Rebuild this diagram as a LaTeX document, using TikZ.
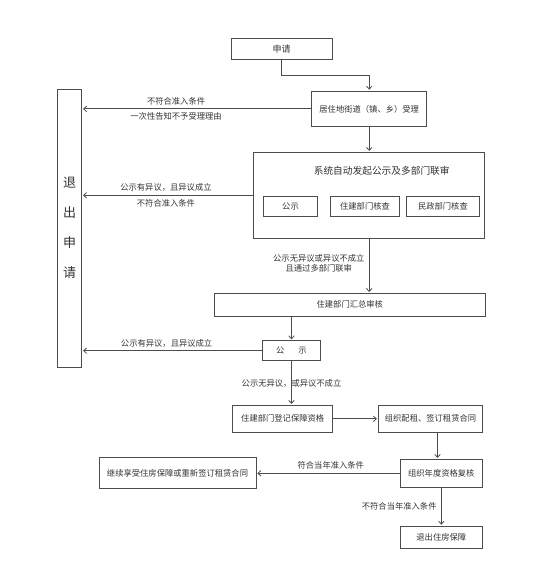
\documentclass[tikz,border=0pt]{standalone}
\usepackage{fontspec}
\setmainfont{Noto Sans CJK SC}
\usetikzlibrary{arrows.meta,positioning}

\begin{document}
\begin{tikzpicture}[x=1pt,y=-1pt,on grid,
   every node/.style={text=black!80,font=\fontsize{8.3}{11}\selectfont},
   box/.style={draw=black!70,line width=.7pt,inner sep=0pt},
   link/.style={draw=black!70,line width=.8pt,shorten >=1pt,
     -{Straight Barb[length=3pt,width=5.5pt]}}]
   \useasboundingbox (0,0) rectangle (553,588);
   \node[box,minimum width=101pt,minimum height=21pt,font=\fontsize{9}{11}\selectfont] (apply) at (281.5,48.8) {申请};
   \node[box,minimum width=115pt,minimum height=35.7pt] (accept) [below right=60.1pt and 87.7pt of apply] {居住地街道（镇、乡）受理};
   \node[box,minimum width=231pt,minimum height=86pt] (review) [below=86.4pt of accept] {};
   \node[font=\fontsize{9.7}{11}\selectfont] (review_t) [above right=24.6pt and 12.5pt of review] {系统自动发起公示及多部门联审};
   \node[box,minimum width=53.6pt,minimum height=20pt] (check_gs) [below left=11.2pt and 78.7pt of review] {公示};
   \node[box,minimum width=68.6pt,minimum height=20.6pt] (check_zj) [right=74.5pt of check_gs] {住建部门核查};
   \node[box,minimum width=72.3pt,minimum height=20.5pt] (check_mz) [right=77.9pt of check_zj] {民政部门核查};
   \node[box,minimum width=271pt,minimum height=22.7pt] (summary) [below left=109.4pt and 19.4pt of review] {住建部门汇总审核};
   \node[box,minimum width=58.4pt,minimum height=20pt] (publicity) [below left=46pt and 58.3pt of summary] {公\hspace{14pt}示};
   \node[box,minimum width=100pt,minimum height=27pt] (register) [below left=68.1pt and 8.8pt of publicity] {住建部门登记保障资格};
   \node[box,minimum width=104.4pt,minimum height=27pt] (lease) [right=147.8pt of register] {组织配租、签订租赁合同};
   \node[box,minimum width=82.7pt,minimum height=28pt] (annual) [below right=54.5pt and 10.8pt of lease] {组织年度资格复核};
   \node[box,minimum width=157pt,minimum height=31pt] (renew) [left=263.8pt of annual] {继续享受住房保障或重新签订租赁合同};
   \node[box,minimum width=81.4pt,minimum height=22.3pt] (quit) [below=63.9pt of annual] {退出住房保障};
   \node[box,minimum width=24.4pt,minimum height=278pt,align=center,font=\fontsize{13}{30}\selectfont] (exit) at (69.5,228.3) {退\\出\\申\\请};
   % connectors
   \draw[link] (apply.south) -- ++(0,16.2) -| (accept.north);
   \draw[link] (accept.west) -- (accept.west -| exit.east)
      node[pos=.59,above] {不符合准入条件}
      node[pos=.59,below] {一次性告知不予受理理由};
   \draw[link] (accept.south) -- (review.north);
   \draw[link] (review.west) -- (review.west -| exit.east)
      node[pos=.51,above] {公示有异议，且异议成立}
      node[pos=.51,below] {不符合准入条件};
   \draw[link] (review.south) -- (review.south |- summary.north)
      node[pos=.45,left=1pt,align=center,font=\fontsize{8.3}{10.5}\selectfont] {公示无异议或异议不成立\\且通过多部门联审};
   \draw[link] (publicity.north |- summary.south) -- (publicity.north);
   \draw[link] (publicity.west) -- (publicity.west -| exit.east)
      node[pos=.53,above] {公示有异议，且异议成立};
   \draw[link] (publicity.south) -- (publicity.south |- register.north)
      node[midway] {公示无异议，或异议不成立};
   \draw[link] (register.east) -- (lease.west);
   \draw[link] ([xshift=7pt]lease.south) -- ([xshift=7pt]lease.south |- annual.north);
   \draw[link] (annual.west) -- (renew.east)
      node[pos=.48,above] {符合当年准入条件};
   \draw[link] (annual.south) -- (quit.north)
      node[midway,left=1pt] {不符合当年准入条件};
\end{tikzpicture}
\end{document}
